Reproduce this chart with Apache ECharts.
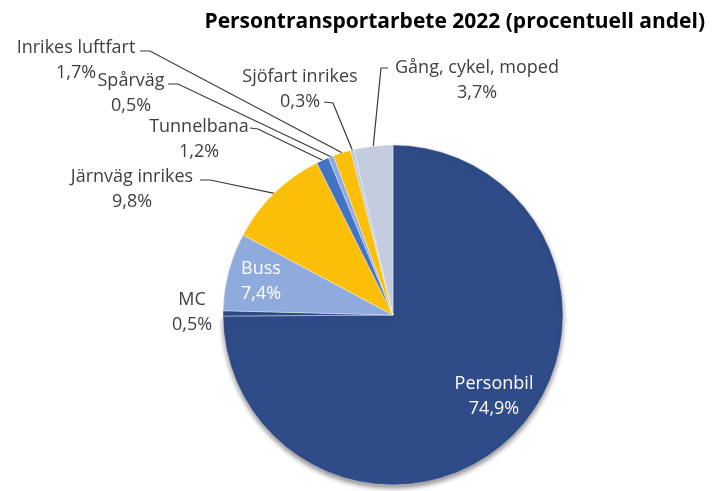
<!DOCTYPE html>
<html>
<head>
<meta charset="utf-8">
<script src="https://cdn.jsdelivr.net/npm/echarts@6/dist/echarts.min.js"></script>
<style>html,body{margin:0;padding:0;background:#fff;}</style>
</head>
<body>
<div id="main" style="width:712px;height:491px;"></div>
<script>
// andel av persontransportarbetet 2022, procent
var categories = ['Personbil', 'MC', 'Buss', 'Järnväg inrikes', 'Tunnelbana', 'Spårväg', 'Inrikes luftfart', 'Sjöfart inrikes', 'Gång, cykel, moped'];
var shares = [74.9, 0.5, 7.4, 9.8, 1.2, 0.5, 1.7, 0.3, 3.7];
var sliceColors = ['#2F4C88', '#2C4A86', '#8FAADC', '#FBBF0A', '#4472C4', '#8FAADC', '#FBBF0A', '#B4C7E7', '#C4CCE0'];

// label anchor [x, y] and optional leader [elbowX, elbowY, endX, endY]
var labelPos = {
    'Personbil': [494, 396],
    'MC': [192, 312],
    'Buss': [261, 281],
    'Järnväg inrikes': [132, 189, 210, 180, 200, 180],
    'Tunnelbana': [199, 139, 258, 129, 250, 128],
    'Spårväg': [131, 93, 178, 84, 168, 84],
    'Inrikes luftfart': [76, 60, 150, 51, 140, 51],
    'Sjöfart inrikes': [300, 89, 333, 103, 324, 102],
    'Gång, cykel, moped': [477, 80, 381, 68, 388, 68]
};
var insideLabels = ['Personbil', 'Buss'];

var myChart = echarts.init(document.getElementById('main'));

var pieData = categories.map(function (name, i) {
    var item = {
        name: name,
        value: shares[i],
        itemStyle: { color: sliceColors[i] }
    };
    if (insideLabels.indexOf(name) >= 0) {
        item.label = { position: 'inside', color: '#ffffff' };
    }
    if (name === 'MC') {
        item.labelLine = { show: false };
    }
    if (name === 'Personbil') {
        item.itemStyle.shadowColor = 'rgba(0,0,0,0.45)';
        item.itemStyle.shadowBlur = 5;
        item.itemStyle.shadowOffsetY = 3;
    }
    return item;
});

var option = {
    backgroundColor: '#ffffff',
    animation: false,
    title: {
        text: 'Persontransportarbete 2022 (procentuell andel)',
        right: 2,
        top: 7,
        textStyle: {
            fontFamily: 'Open Sans',
            fontSize: 21,
            fontWeight: 'bold',
            color: '#000000'
        }
    },
    series: [{
        type: 'pie',
        center: [393, 315],
        radius: 170,
        startAngle: 90,
        clockwise: true,
        avoidLabelOverlap: false,
        itemStyle: {
            borderColor: 'rgba(255,255,255,0.6)',
            borderWidth: 0.6
        },
        label: {
            show: true,
            position: 'outside',
            fontFamily: 'Open Sans',
            fontSize: 18,
            lineHeight: 25,
            color: '#404040',
            align: 'center',
            formatter: function (p) {
                return p.name + '\n' + p.value.toFixed(1).replace('.', ',') + '%';
            }
        },
        labelLine: {
            show: true,
            lineStyle: { color: '#3a3a3a', width: 1.2 }
        },
        labelLayout: function (params) {
            var p = labelPos[categories[params.dataIndex]];
            var out = { x: p[0], y: p[1], align: 'center', verticalAlign: 'middle' };
            if (p.length > 2 && params.labelLinePoints) {
                out.labelLinePoints = [params.labelLinePoints[0], [p[2], p[3]], [p[4], p[5]]];
            }
            return out;
        },
        data: pieData
    }]
};

myChart.setOption(option);
</script>
</body>
</html>
